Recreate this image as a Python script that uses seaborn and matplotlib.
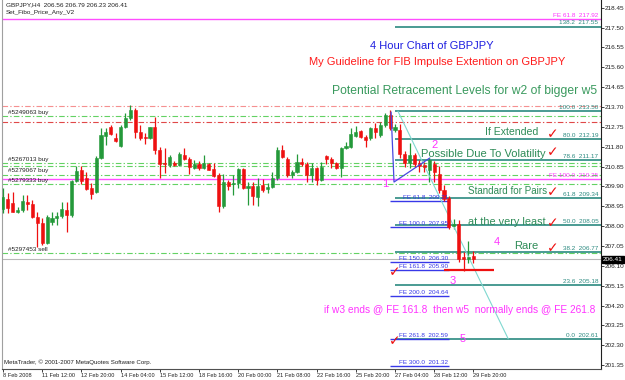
import matplotlib
matplotlib.use("Agg")
import matplotlib.pyplot as plt
import seaborn as sns
import numpy as np
import pandas as pd

# ---------------- data ----------------
opens = [208.82, 209.30, 209.09, 208.66, 208.77, 209.17, 209.04, 208.45, 208.13, 207.17,
         208.18, 208.37, 208.50, 208.77, 208.53, 210.16, 210.69, 210.32, 209.81, 209.62,
         211.24, 212.30, 212.73, 212.23, 211.85, 212.76, 213.16, 213.56, 212.49, 212.28,
         212.23, 212.76, 211.64, 211.00, 210.92, 211.04, 210.92, 211.40, 211.21, 210.80,
         210.96, 210.76, 210.99, 210.73, 210.45, 208.98, 210.09, 210.00, 210.05, 210.73,
         209.84, 209.94, 209.41, 209.97, 209.76, 209.89, 210.29, 211.64, 211.21, 210.45,
         210.57, 211.08, 210.96, 210.45, 210.80, 210.21, 211.37, 211.20, 211.00, 210.80,
         211.72, 211.80, 212.33, 212.55, 212.28, 212.20, 212.68, 212.36, 212.84, 213.30,
         212.62, 212.60, 211.45, 211.00, 211.42, 211.00, 210.92, 210.70, 210.95, 210.50,
         209.75, 209.35, 208.00, 208.10, 206.50, 206.42, 206.56]
highs = [209.81, 209.57, 209.65, 208.93, 209.49, 209.49, 209.25, 208.69, 208.37, 208.53,
         208.69, 208.69, 209.17, 209.17, 210.21, 210.89, 210.89, 210.57, 210.05, 211.37,
         212.68, 212.71, 212.84, 212.44, 212.84, 213.40, 213.80, 213.64, 212.84, 212.44,
         212.76, 213.24, 211.80, 211.75, 211.40, 211.12, 211.53, 211.75, 211.32, 211.16,
         211.12, 211.40, 211.00, 211.00, 210.53, 210.48, 210.21, 210.45, 210.80, 210.80,
         210.09, 210.09, 210.32, 210.26, 210.05, 210.57, 211.80, 211.88, 211.32, 210.69,
         211.43, 211.24, 211.05, 211.00, 210.84, 211.08, 211.40, 211.32, 211.08, 211.80,
         212.04, 212.71, 212.81, 212.60, 212.36, 212.76, 212.92, 213.00, 213.40, 213.55,
         212.90, 212.90, 211.60, 212.00, 211.50, 211.15, 211.08, 211.25, 211.10, 210.90,
         209.95, 209.45, 208.35, 208.30, 206.75, 207.30, 206.79]
lows = [208.61, 208.61, 208.66, 208.61, 208.69, 208.77, 208.37, 207.02, 207.10, 207.13,
        208.05, 208.05, 208.37, 207.73, 208.45, 210.09, 210.00, 209.73, 209.30, 209.57,
        211.21, 211.88, 212.36, 212.04, 211.80, 212.68, 213.08, 212.23, 212.12, 211.91,
        212.17, 211.44, 210.29, 210.53, 210.84, 210.88, 210.89, 211.16, 210.48, 210.73,
        210.69, 210.73, 210.67, 210.37, 208.69, 208.85, 209.73, 209.49, 209.81, 209.78,
        209.01, 209.01, 208.98, 209.65, 209.57, 209.81, 210.21, 211.28, 210.37, 210.29,
        210.53, 210.89, 210.09, 210.09, 209.97, 210.16, 210.96, 210.80, 210.73, 210.37,
        211.69, 211.75, 212.28, 212.20, 211.80, 212.12, 212.20, 212.28, 212.76, 212.60,
        212.50, 211.25, 210.85, 210.80, 210.85, 210.60, 210.61, 210.10, 210.10, 209.60,
        209.20, 207.85, 207.85, 206.30, 205.85, 206.25, 206.23]
closes = [209.40, 208.85, 208.69, 208.77, 209.20, 209.04, 208.45, 208.13, 207.17, 208.45,
          208.37, 208.48, 208.82, 208.53, 210.16, 210.64, 210.16, 209.78, 209.55, 211.28,
          212.36, 212.49, 212.39, 212.07, 212.74, 213.19, 213.56, 212.52, 212.23, 212.23,
          212.73, 211.64, 210.97, 210.96, 211.31, 210.92, 211.45, 211.20, 210.81, 210.96,
          210.76, 211.00, 210.70, 210.41, 208.98, 210.13, 209.94, 210.05, 210.73, 209.84,
          209.94, 209.46, 209.94, 209.73, 209.89, 210.29, 211.64, 211.32, 210.45, 210.57,
          211.05, 210.96, 210.45, 210.80, 210.21, 210.84, 211.21, 211.02, 210.80, 211.72,
          211.83, 212.39, 212.49, 212.28, 212.12, 212.68, 212.49, 212.84, 213.30, 212.70,
          212.74, 211.45, 211.00, 211.40, 210.95, 210.90, 210.84, 211.15, 210.60, 209.73,
          209.30, 207.95, 208.10, 206.45, 206.42, 206.50, 206.41]

date_labels = ["8 Feb 2008", "11 Feb 12:00", "12 Feb 20:00", "14 Feb 04:00", "15 Feb 12:00",
               "18 Feb 16:00", "20 Feb 00:00", "21 Feb 08:00", "22 Feb 16:00", "25 Feb 20:00",
               "27 Feb 04:00", "28 Feb 12:00", "29 Feb 20:00"]
price_ticks = [218.45, 217.50, 216.55, 215.60, 214.65, 213.70, 212.75, 211.80, 210.85,
               209.90, 208.95, 208.00, 207.05, 206.10, 205.15, 204.20, 203.25, 202.30, 201.35]

# Fibonacci retracement (teal) levels
fibo_names = ["138.2", "100.0", "80.0", "78.6", "61.8", "50.0", "38.2", "23.6", "0.0"]
fibo_prices = [217.55, 213.50, 212.19, 211.17, 209.34, 208.05, 206.77, 205.18, 202.61]
# Fibo expansion (blue) levels
fe_names = ["61.8", "100.0", "150.0", "161.8", "200.0", "261.8", "300.0"]
fe_prices = [209.21, 207.95, 206.30, 205.90, 204.64, 202.59, 201.32]
# Fibo expansion (magenta, full width) levels
fem_names = ["61.8", "100.0"]
fem_prices = [217.92, 210.25]
# order lines
order_labels = ["#5249063 buy", "#5267013 buy", "#5279067 buy", "#5279333 buy", "#5297453 sell"]
order_prices = [213.26, 211.01, 210.45, 210.00, 206.70]
extra_green_prices = [210.89]
red_order_prices = [213.76, 212.97]
bid_price = 206.41

# wave drawing points
wave_bars = [79.2, 79.8, 87.1]
wave_prices = [213.46, 210.11, 211.26]
trend_bars = [80.6, 103.1]
trend_prices = [213.50, 202.61]

# ---------------- figure ----------------
sns.set_theme(style="white")
plt.rcParams["font.family"] = ["Liberation Sans", "DejaVu Sans"]

W, H = 625, 380
fig = plt.figure(figsize=(W / 100, H / 100), dpi=100)
fig.patch.set_facecolor("white")
ax = fig.add_axes([2 / W, 11 / H, 599 / W, 369 / H])
ax.set_facecolor("white")

ax.set_xlim(-0.2, 122.04)
ax.set_ylim(201.164, 218.82)

df = pd.DataFrame({"bar": np.arange(len(opens)), "open": opens, "high": highs,
                   "low": lows, "close": closes})
df["up"] = df["close"] >= df["open"]

GREEN = "#24993a"
RED = "#ee1010"
dashdot = (0, (5, 2, 1.2, 2))
GL = "#63d263"
SMALL = 4.6

# horizontal order lines
for p in order_prices + extra_green_prices:
    ax.axhline(p, color=GL, lw=0.8, ls=dashdot, zorder=1)
ax.axhline(red_order_prices[0], color="#f59090", lw=0.8, ls=dashdot, zorder=1)
ax.axhline(red_order_prices[1], color="#e04848", lw=0.8, ls=dashdot, zorder=1)
for lab, p in zip(order_labels, order_prices):
    ax.text(1.0, p + 0.08, lab, fontsize=SMALL, color="#202020", ha="left", va="bottom", zorder=5)

# bid line
ax.axhline(bid_price, color="#b8b8b8", lw=0.8, zorder=1)

# magenta FE lines full width
for n, p in zip(fem_names, fem_prices):
    ax.axhline(p, color="#ff4dff", lw=1.0, zorder=2)
    ax.text(121.5, p + 0.05, f"FE {n}  {p:.2f}", fontsize=SMALL, color="#ff33ff",
            ha="right", va="bottom", zorder=5)

# teal fibo retracement lines
for n, p in zip(fibo_names, fibo_prices):
    ax.hlines(p, 80.0, 122.04, color="#2b8a80", lw=1.2, zorder=2)
    ax.text(121.5, p + 0.05, f"{n}  {p:.2f}", fontsize=SMALL, color="#2b8a80",
            ha="right", va="bottom", zorder=5)

# blue FE lines
for n, p in zip(fe_names, fe_prices):
    ax.hlines(p, 79.0, 91.0, color="#3838e8", lw=1.0, zorder=3)
    ax.text(90.8, p + 0.05, f"FE {n}  {p:.2f}", fontsize=SMALL, color="#3838e8",
            ha="right", va="bottom", zorder=5)

# candles
for up, col in ((True, GREEN), (False, RED)):
    sub = df[df["up"] == up]
    ax.vlines(sub["bar"], sub["low"], sub["high"], color=col, lw=0.9, zorder=3)
    body = (sub["close"] - sub["open"]).abs().clip(lower=0.03)
    bottom = sub[["open", "close"]].min(axis=1)
    ax.bar(sub["bar"], body, bottom=bottom, width=0.62, color=col, edgecolor=col,
           linewidth=0.4, zorder=4)

# trend line (fibo anchor diagonal) and wave lines
sns.lineplot(x=trend_bars, y=trend_prices, ax=ax, color="#7fd8d0", lw=0.8, zorder=3, sort=False)
sns.lineplot(x=wave_bars, y=wave_prices, ax=ax, color="#4848e0", lw=0.9, zorder=5, sort=False)

# red line at FE 161.8
ax.hlines(205.90, 90.0, 100.2, color="#ee1010", lw=1.6, zorder=5)

# titles / annotations
ax.text(87.6, 216.62, "4 Hour Chart of GBPJPY", fontsize=8, color="#1f1fe0", ha="center", va="center")
ax.text(88.6, 215.85, "My Guideline for FIB Impulse Extention on GBPJPY", fontsize=8,
        color="#ff1a1a", ha="center", va="center")
ax.text(94.1, 214.47, "Potential Retracement Levels for w2 of bigger w5", fontsize=8.7,
        color="#3a9a5e", ha="center", va="center")
TG = "#2e8b57"
ax.text(103.8, 212.50, "If Extended", fontsize=7.6, color=TG, ha="center", va="center", zorder=6)
ax.text(98.0, 211.45, "Possible Due To Volatility", fontsize=8, color=TG, ha="center", va="center", zorder=6)
ax.text(102.9, 209.68, "Standard for Pairs", fontsize=7.1, color=TG, ha="center", va="center", zorder=6)
ax.text(102.9, 208.20, "at the very least", fontsize=7.8, color=TG, ha="center", va="center", zorder=6)
ax.text(106.8, 207.05, "Rare", fontsize=8, color=TG, ha="center", va="center", zorder=6)
ax.text(93.3, 203.99, "if w3 ends @ FE 161.8  then w5  normally ends @ FE 261.8", fontsize=7.3,
        color="#ff33ff", ha="center", va="center", zorder=6)

checks = [(112.2, 212.40), (112.2, 211.55), (112.2, 209.65), (112.2, 208.15), (112.2, 206.95),
          (80.0, 205.80), (80.0, 202.50)]
for cx, cy in checks:
    ax.text(cx, cy, "\u2713", fontsize=10, color="#ee1010", ha="center", va="center",
            family=["DejaVu Sans"], zorder=6)

for lab, bx, by in [("1", 78.0, 210.00), ("2", 88.0, 211.90), ("3", 91.8, 205.36),
                    ("4", 100.8, 207.26), ("5", 93.9, 202.60)]:
    ax.text(bx, by, lab, fontsize=8, color="#ff33ff", ha="center", va="center", zorder=6)

ax.text(0.006, 0.995, "GBPJPY,H4  206.56 206.79 206.23 206.41", transform=ax.transAxes,
        fontsize=SMALL, color="#202020", ha="left", va="top")
ax.text(0.006, 0.972, "Set_Fibo_Price_Any_V2", transform=ax.transAxes,
        fontsize=SMALL, color="#202020", ha="left", va="top")
ax.text(0.004, 0.012, "MetaTrader, \u00a9 2001-2007 MetaQuotes Software Corp.", transform=ax.transAxes,
        fontsize=4.4, color="#202020", ha="left", va="bottom")

# current price box
ax.text(1.003, bid_price, f"{bid_price:.2f}", transform=ax.get_yaxis_transform(),
        fontsize=4.6, color="white", ha="left", va="center",
        bbox=dict(boxstyle="square,pad=0.15", fc="black", ec="black"), zorder=10, clip_on=False)

# axes styling
ax.yaxis.tick_right()
ax.set_yticks(price_ticks)
ax.set_yticklabels([f"{t:.2f}" for t in price_ticks], fontsize=4.6, color="#202020")
ax.set_xticks(np.arange(0, 97, 8))
ax.set_xticklabels(date_labels, fontsize=4.1, color="#202020", ha="left")
ax.tick_params(axis="both", which="both", length=2, width=0.6, color="#202020", pad=1,
               direction="out", bottom=True, right=True, left=False, top=False)
ax.grid(False)
ax.spines["top"].set_visible(False)
ax.spines["left"].set_color("#a0a0a0")
ax.spines["bottom"].set_color("#505050")
ax.spines["right"].set_color("#202020")
for s in ["left", "bottom", "right"]:
    ax.spines[s].set_linewidth(0.8)

fig.savefig("out.png", dpi=100, facecolor="white")
